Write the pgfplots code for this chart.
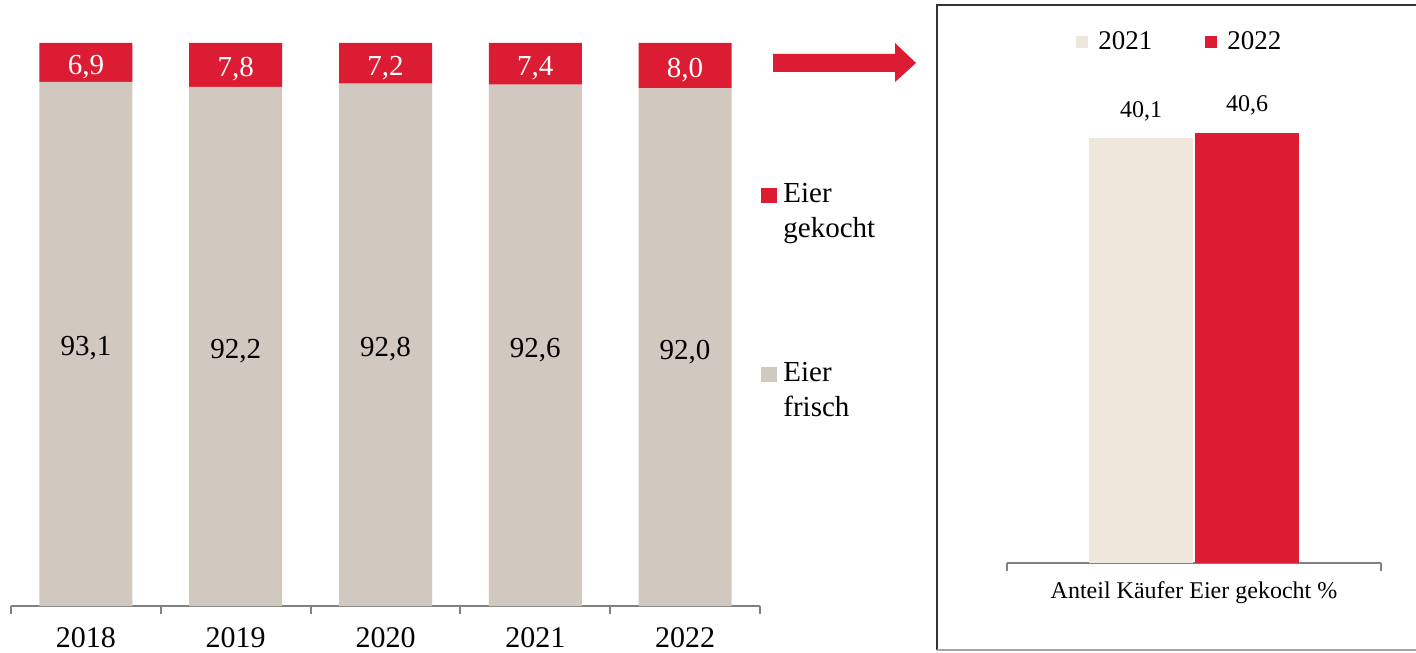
\documentclass[border=0pt]{standalone}
\usepackage{fontspec}
\setmainfont{Liberation Serif}
\usepackage{pgfplots}
\usepackage{pgfplotstable}
\pgfplotsset{compat=1.18}

\definecolor{eired}{HTML}{DC1C32}
\definecolor{eigray}{HTML}{D1C8BF}
\definecolor{eilight}{HTML}{EFE7DB}
\definecolor{axgray}{HTML}{808080}

% share in % per year
\pgfplotstableread{
x year frisch gekocht
0 2018 93.1 6.9
1 2019 92.2 7.8
2 2020 92.8 7.2
3 2021 92.6 7.4
4 2022 92.0 8.0
}\anteil

\begin{document}
\begin{tikzpicture}
\path[use as bounding box] (0pt,0pt) rectangle (708pt,326pt);

% left: stacked bars
\begin{axis}[
    at={(5.5pt,23pt)}, anchor=south west,
    scale only axis, width=374.5pt, height=281.5pt,
    ybar stacked, bar width=46.5pt,
    xmin=-0.5, xmax=4.5, ymin=0, ymax=100,
    clip=false,
    axis y line=none, axis x line*=bottom,
    axis line style={axgray, line width=1pt},
    xtick={0,...,4}, xticklabels={2018,2019,2020,2021,2022},
    major tick length=0pt,
    minor xtick={-0.5,0.5,1.5,2.5,3.5,4.5},
    minor tick length=4pt,
    minor x tick style={axgray, line width=1pt},
    xtick align=outside,
    xticklabel style={font=\fontsize{15}{18}\selectfont, yshift=-7pt},
    nodes near coords={\pgfmathprintnumber[fixed,fixed zerofill,precision=1,use comma,assume math mode=true]{\pgfplotspointmeta}},
    every node near coord/.append style={font=\fontsize{14.5}{17}\selectfont,
        anchor=center, yshift=-2.3pt},
]
\addplot[fill=eigray, draw=none, point meta=\thisrow{frisch}]
    table[x=x, y=frisch] {\anteil};
\addplot[fill=eired, draw=none, point meta=\thisrow{gekocht},
    every node near coord/.append style={white}]
    table[x=x, y=gekocht] {\anteil};
\end{axis}

% left legend
\fill[eired] (380.5pt,224.5pt) rectangle (388.5pt,232pt);
\node[anchor=base west, inner sep=0, font=\fontsize{14.5}{17}\selectfont] at (391.5pt,224.5pt) {Eier};
\node[anchor=base west, inner sep=0, font=\fontsize{14.5}{17}\selectfont] at (391.5pt,207pt) {gekocht};
\fill[eigray] (380.5pt,135pt) rectangle (388.5pt,142.5pt);
\node[anchor=base west, inner sep=0, font=\fontsize{14.5}{17}\selectfont] at (391.5pt,135pt) {Eier};
\node[anchor=base west, inner sep=0, font=\fontsize{14.5}{17}\selectfont] at (391.5pt,117.5pt) {frisch};

% arrow
\fill[eired] (386.5pt,299pt) -- (447.5pt,299pt) -- (447.5pt,304.5pt) -- (458pt,294.5pt)
  -- (447.5pt,285pt) -- (447.5pt,290pt) -- (386.5pt,290pt) -- cycle;

% box
\draw[black!80, line width=1pt] (708pt,323.5pt) -- (468.5pt,323.5pt) -- (468.5pt,1pt);
\draw[black!35, line width=1pt] (468.5pt,1pt) -- (708pt,1pt);

% right: grouped bars
\begin{axis}[
    at={(503.5pt,44.5pt)}, anchor=south west,
    scale only axis, width=187pt, height=265pt,
    ybar=1pt, bar width=52pt,
    xmin=-1, xmax=1, ymin=0, ymax=50,
    clip=false,
    axis y line=none, axis x line*=bottom,
    axis line style={axgray, line width=1pt},
    xtick={0}, xticklabels={Anteil Käufer Eier gekocht \%},
    major tick length=0pt,
    minor xtick={-1,1},
    minor tick length=4pt,
    minor x tick style={axgray, line width=1pt},
    xtick align=outside,
    xticklabel style={font=\fontsize{12}{14}\selectfont, yshift=-6pt},
    nodes near coords={\pgfmathprintnumber[fixed,fixed zerofill,precision=1,use comma,assume math mode=true]{\pgfplotspointmeta}},
    every node near coord/.append style={font=\fontsize{12}{14}\selectfont, black, yshift=5pt},
    legend image code/.code={\fill[#1] (0pt,-3pt) rectangle (6pt,3pt);},
    legend columns=2,
    legend style={at={(0.465,0.983)}, anchor=center, draw=none,
        font=\fontsize{13.5}{15}\selectfont, column sep=3pt,
        /tikz/every even column/.append style={column sep=24.5pt}},
]
\addplot[fill=eilight, draw=none] coordinates {(0,40.1)};
\addplot[fill=eired, draw=none] coordinates {(0,40.6)};
\legend{2021,2022}
\end{axis}
\end{tikzpicture}
\end{document}
